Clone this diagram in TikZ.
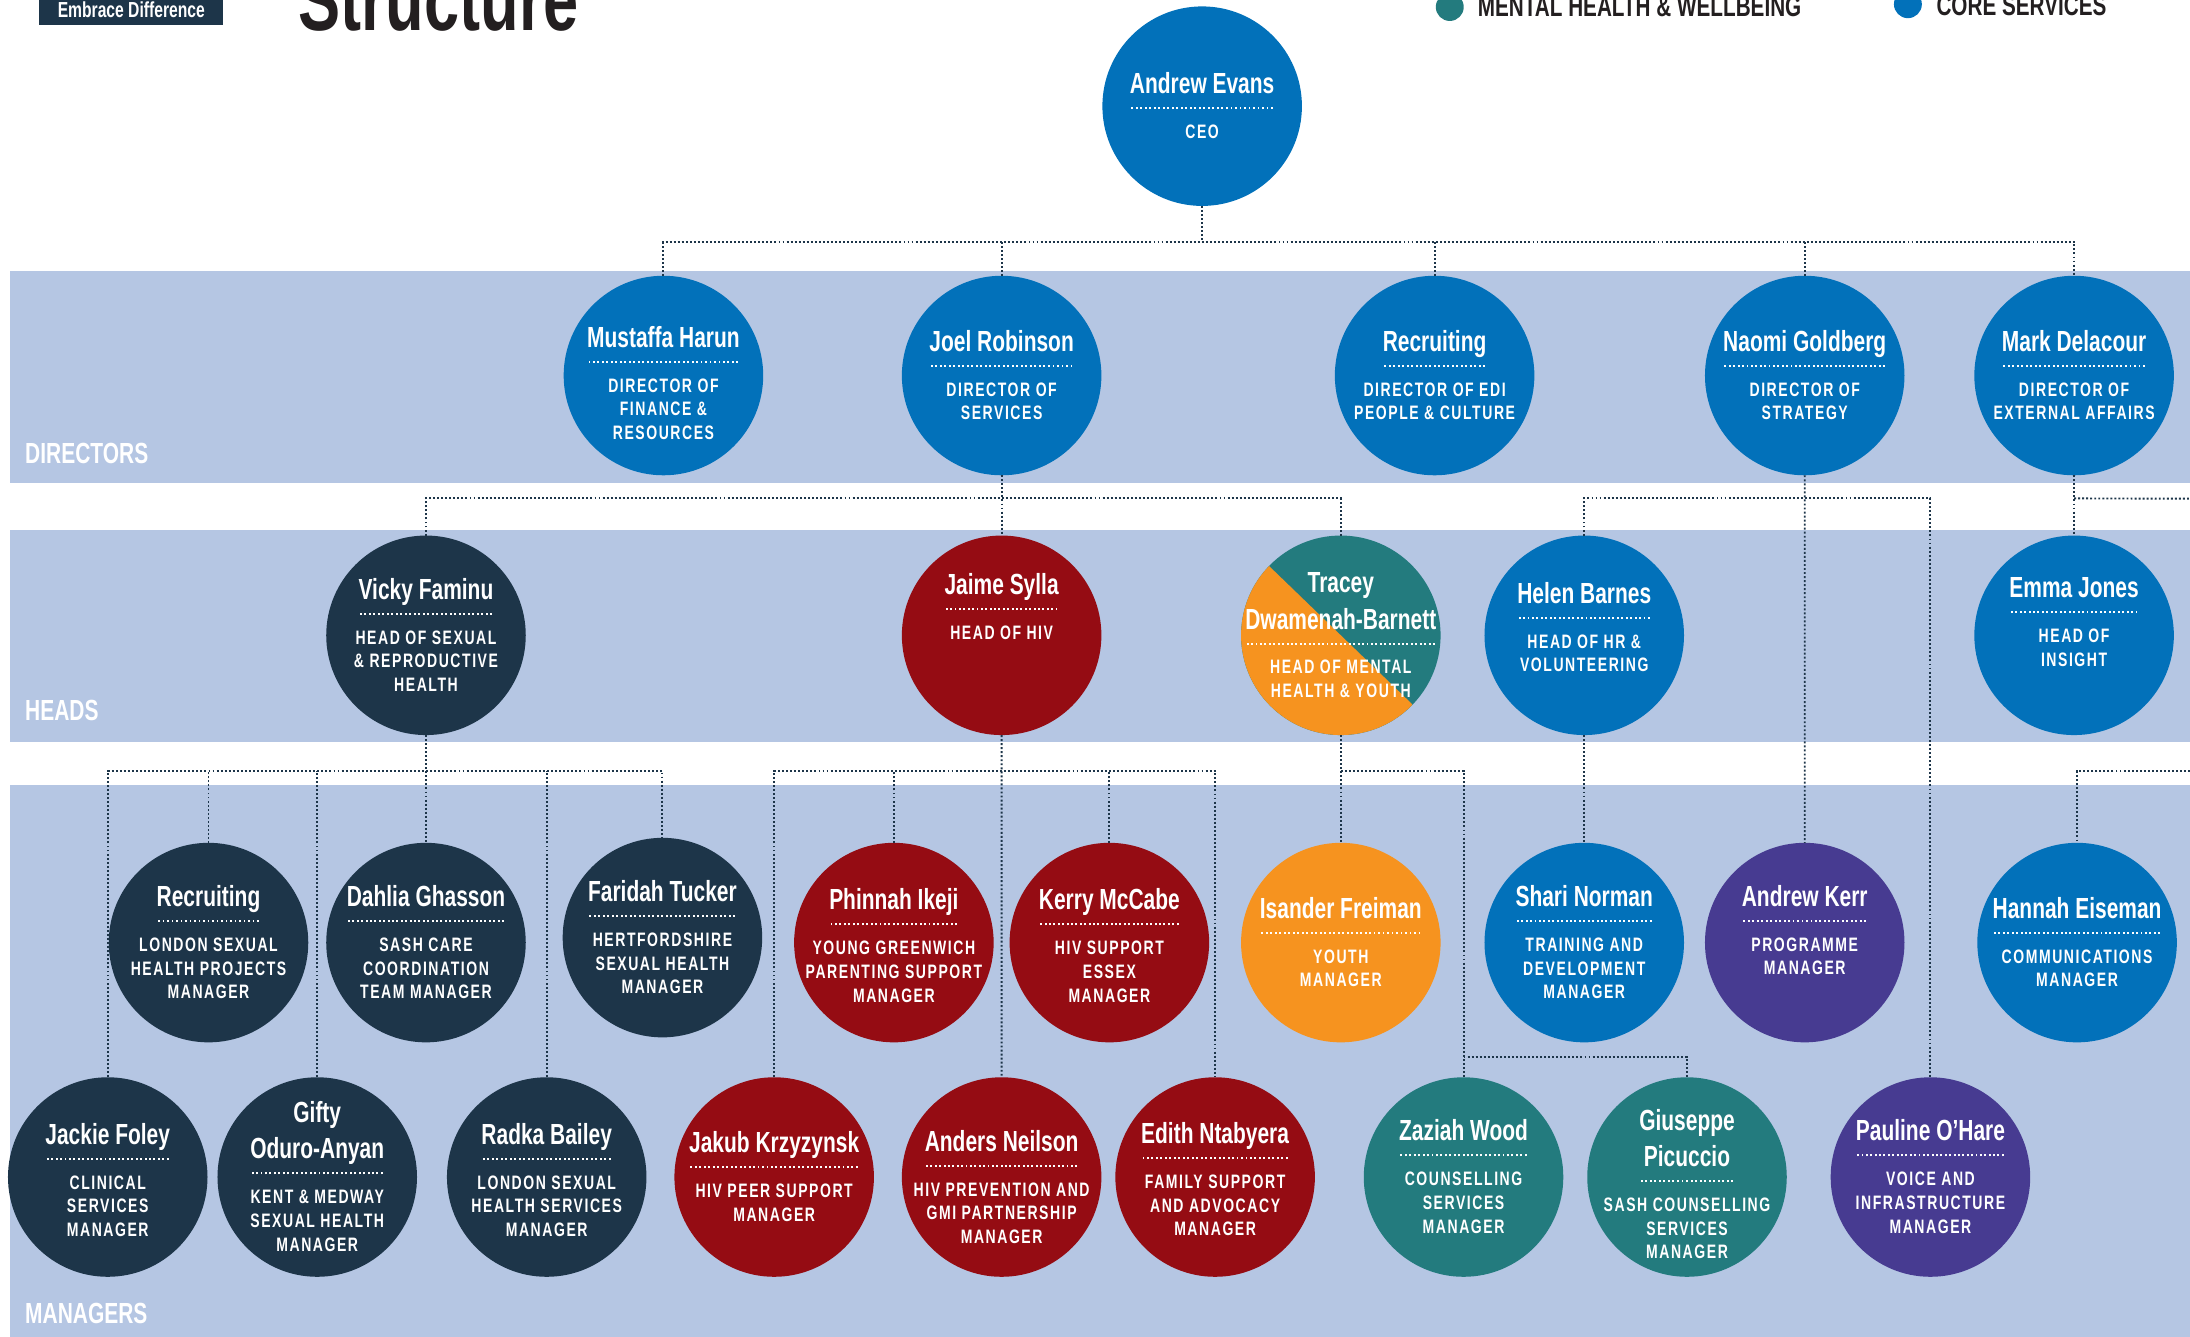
\documentclass[tikz,border=0pt]{standalone}
\usepackage{fontspec}
\usepackage{array}
\usetikzlibrary{positioning}

\newfontfamily\condfam[FakeStretch=0.72]{Liberation Sans}
\newfontfamily\rolefam[FakeStretch=0.72,LetterSpace=8]{Liberation Sans}
\newcommand{\namefnt}{\condfam\bfseries\fontsize{8.3}{10.3}\selectfont}
\newcommand{\rolefnt}{\rolefam\bfseries\fontsize{5.55}{6.75}\selectfont}
\newcommand{\namestrut}{\rule[-2.9pt]{0pt}{10.3pt}}
\newcommand{\rolestrut}{\rule[-1.9pt]{0pt}{6.75pt}}

\definecolor{coreblue}{HTML}{0271BA}
\definecolor{shrnavy}{HTML}{1D3549}
\definecolor{hivred}{HTML}{950C13}
\definecolor{youthorange}{HTML}{F6931F}
\definecolor{mhwteal}{HTML}{237B7E}
\definecolor{progpurple}{HTML}{473B91}
\definecolor{bandblue}{HTML}{B5C6E3}
\definecolor{ink}{HTML}{231F20}

% name, dotted rule as wide as the name, role (optional arg nudges the block up/down)
\newlength{\namewd}
\newcommand{\sepdots}{\makebox[\namewd]{\xleaders\hbox to 1.25pt{\hss\rule{0.55pt}{0.55pt}\hss}\hfill}\rule[-3.55pt]{0pt}{5.05pt}}
\newcommand{\who}[3][0pt]{{\renewcommand{\arraystretch}{0}%
  \settowidth{\namewd}{\begin{tabular}{@{}>{\namefnt}c@{}}#2\end{tabular}}%
  \smash{\makebox[0pt]{\raisebox{\dimexpr #1-2.6pt\relax}{\begin{tabular}{@{}c@{}}
    \begin{tabular}[b]{@{}>{\namefnt\namestrut}c@{}}#2\end{tabular}\\
    \sepdots\\
    \begin{tabular}[t]{@{}>{\rolefnt\rolestrut}c@{}}#3\end{tabular}
  \end{tabular}}}}}}

\begin{document}
\begin{tikzpicture}[
    person/.style={circle, minimum size=2cm, inner sep=0pt, outer sep=0pt, text=white},
    corenode/.style={person, fill=coreblue},
    shrnode/.style={person, fill=shrnavy},
    hivnode/.style={person, fill=hivred},
    youthnode/.style={person, fill=youthorange},
    mhwnode/.style={person, fill=mhwteal},
    prognode/.style={person, fill=progpurple},
    bandlabel/.style={anchor=base west, inner sep=0pt, text=white, font=\condfam\bfseries\fontsize{8.3}{10}\selectfont},
    legendtext/.style={anchor=base west, inner sep=0pt, text=ink, font=\condfam\bfseries\fontsize{8.2}{10}\selectfont},
    legenddot/.style={circle, minimum size=0.28cm, inner sep=0pt},
    link/.style={draw=shrnavy, line width=0.55pt, dash pattern=on 0.55pt off 0.6pt}]
    \useasboundingbox (0,0) rectangle (21.952,-13.398);
    \clip (0,0) rectangle (21.952,-13.398);

    % bands
    \fill[bandblue] (0.098,-2.716) rectangle (21.952,-4.837);
    \fill[bandblue] (0.098,-5.312) rectangle (21.952,-7.434);
    \fill[bandblue] (0.098,-7.865) rectangle (21.952,-13.398);
    \node[bandlabel] (dirlabel) at (0.246,-4.644) {DIRECTORS};
    \node[bandlabel] (headlabel) at (0.246,-7.224) {HEADS};
    \node[bandlabel] (mgrlabel) at (0.246,-13.265) {MANAGERS};

    % header
    \node[fill=shrnavy, text=white, inner sep=0pt, minimum width=1.848cm, text height=0.374cm, text depth=0.078cm,
        font=\condfam\bfseries\fontsize{6.2}{7}\selectfont, anchor=base] (tag) at (1.316,-0.174) {Embrace Difference};
    \node[anchor=base west, inner sep=0pt, text=ink, font=\condfam\bfseries\fontsize{25}{30}\selectfont] (title) at (2.982,-0.301) {Structure};
    \node[legenddot, fill=mhwteal] (mhwdot) at (14.532,-0.07) {};
    \node[legendtext] (mhwkey) at (14.806,-0.161) {MENTAL HEALTH \& WELLBEING};
    \node[legenddot, fill=coreblue] (coredot) at (19.124,-0.042) {};
    \node[legendtext] (corekey) at (19.404,-0.154) {CORE SERVICES};

    % CEO and directors
    \node[corenode] (ceo) at (12.05,-1.064) {\who{Andrew Evans}{CEO}};
    \node[corenode, below=0.7cm of ceo, xshift=-5.4cm] (mustaffa) {\who[-2.2pt]{Mustaffa Harun}{DIRECTOR OF\\FINANCE \&\\RESOURCES}};
    \node[corenode, right=1.39cm of mustaffa] (joel) {\who{Joel Robinson}{DIRECTOR OF\\SERVICES}};
    \node[corenode, right=2.34cm of joel] (edi) {\who{Recruiting}{DIRECTOR OF EDI\\PEOPLE \& CULTURE}};
    \node[corenode, right=1.71cm of edi] (naomi) {\who{Naomi Goldberg}{DIRECTOR OF\\STRATEGY}};
    \node[corenode, right=0.70cm of naomi] (mark) {\who{Mark Delacour}{DIRECTOR OF\\EXTERNAL AFFAIRS}};

    % heads
    \node[hivnode, below=0.604cm of joel] (jaime) {\who[8pt]{Jaime Sylla}{HEAD OF HIV}};
    \node[shrnode, left=3.77cm of jaime] (vicky) {\who{Vicky Faminu}{HEAD OF SEXUAL\\\& REPRODUCTIVE\\HEALTH}};
    \node[mhwnode, right=1.40cm of jaime, path picture={\fill[youthorange] (path picture bounding box.center) ++(136:1cm)
        arc[start angle=136, end angle=316, radius=1cm] -- cycle;}] (tracey) {\who{Tracey\\Dwamenah-Barnett}{HEAD OF MENTAL\\HEALTH \& YOUTH}};
    \node[corenode, right=0.44cm of tracey] (helen) {\who[2.2pt]{Helen Barnes}{HEAD OF HR \&\\VOLUNTEERING}};
    \node[corenode, below=0.604cm of mark] (emma) {\who[3.8pt]{Emma Jones}{HEAD OF\\INSIGHT}};

    % managers, upper row
    \node[shrnode, below=1.08cm of vicky] (dahlia) {\who{Dahlia Ghasson}{SASH CARE\\COORDINATION\\TEAM MANAGER}};
    \node[shrnode, left=0.18cm of dahlia] (recruit) {\who{Recruiting}{LONDON SEXUAL\\HEALTH PROJECTS\\MANAGER}};
    \node[shrnode, right=0.37cm of dahlia, yshift=0.05cm] (faridah) {\who{Faridah Tucker}{HERTFORDSHIRE\\SEXUAL HEALTH\\MANAGER}};
    \node[hivnode, right=2.69cm of dahlia] (phinnah) {\who[-1pt]{Phinnah Ikeji}{YOUNG GREENWICH\\PARENTING SUPPORT\\MANAGER}};
    \node[hivnode, right=0.16cm of phinnah] (kerry) {\who[-1pt]{Kerry McCabe}{HIV SUPPORT\\ESSEX\\MANAGER}};
    \node[youthnode, below=1.08cm of tracey] (isander) {\who{Isander Freiman}{YOUTH\\MANAGER}};
    \node[corenode, below=1.08cm of helen] (shari) {\who{Shari Norman}{TRAINING AND\\DEVELOPMENT\\MANAGER}};
    \node[prognode, right=0.21cm of shari] (akerr) {\who[3.4pt]{Andrew Kerr}{PROGRAMME\\MANAGER}};
    \node[corenode, right=0.73cm of akerr] (hannah) {\who{Hannah Eiseman}{COMMUNICATIONS\\MANAGER}};

    % managers, lower row
    \node[shrnode, below=0.35cm of recruit, xshift=-1.01cm] (jackie) {\who[-1pt]{Jackie Foley}{CLINICAL\\SERVICES\\MANAGER}};
    \node[shrnode, right=0.10cm of jackie] (gifty) {\who{Gifty\\Oduro-Anyan}{KENT \& MEDWAY\\SEXUAL HEALTH\\MANAGER}};
    \node[shrnode, right=0.30cm of gifty] (radka) {\who[-1pt]{Radka Bailey}{LONDON SEXUAL\\HEALTH SERVICES\\MANAGER}};
    \node[hivnode, right=0.28cm of radka] (jakub) {\who{Jakub Krzyzynsk}{HIV PEER SUPPORT\\MANAGER}};
    \node[hivnode, right=0.28cm of jakub] (anders) {\who[-3pt]{Anders Neilson}{HIV PREVENTION AND\\GMI PARTNERSHIP\\MANAGER}};
    \node[hivnode, right=0.14cm of anders] (edith) {\who[-0.8pt]{Edith Ntabyera}{FAMILY SUPPORT\\AND ADVOCACY\\MANAGER}};
    \node[mhwnode, right=0.49cm of edith] (zaziah) {\who{Zaziah Wood}{COUNSELLING\\SERVICES\\MANAGER}};
    \node[mhwnode, right=0.24cm of zaziah] (giuseppe) {\who[-2.2pt]{Giuseppe\\Picuccio}{SASH COUNSELLING\\SERVICES\\MANAGER}};
    \node[prognode, right=0.44cm of giuseppe] (pauline) {\who{Pauline O’Hare}{VOICE AND\\INFRASTRUCTURE\\MANAGER}};

    % bus points
    \coordinate[below=0.358cm of ceo] (ceobus);
    \coordinate[below=0.232cm of joel] (joelbus);
    \coordinate[below=0.358cm of vicky] (vickybus);
    \coordinate[below=0.358cm of jaime] (jaimebus);
    \coordinate[below=0.358cm of tracey] (traceybus);
    \coordinate[above=0.204cm of zaziah] (zaziahbus);
    \coordinate (markbus) at (mark |- joelbus);
    \coordinate (eastedge1) at (21.952,-4.998);
    \coordinate (eastedge2) at (21.952,-7.728);

    % connectors
    \draw[link] (ceo) -- (ceobus);
    \draw[link] (mustaffa) |- (ceobus) -| (mark);
    \draw[link] (joel) -- (joel |- ceobus);
    \draw[link] (edi) -- (edi |- ceobus);
    \draw[link] (naomi) -- (naomi |- ceobus);

    \draw[link] (joel) -- (jaime);
    \draw[link] (vicky) |- (joelbus) -| (tracey);
    \draw[link] (naomi) -- (akerr);
    \draw[link] (helen) |- (pauline |- joelbus) -- (pauline);
    \draw[link] (mark) -- (emma);
    \draw[link] (markbus) -- (eastedge1);

    \draw[link] (vicky) -- (dahlia);
    \draw[link] (jackie) |- (faridah |- vickybus) -- (faridah);
    \draw[link] (recruit) -- (recruit |- vickybus);
    \draw[link] (gifty) -- (gifty |- vickybus);
    \draw[link] (radka) -- (radka |- vickybus);

    \draw[link] (jaime) -- (anders);
    \draw[link] (jakub) |- (edith |- jaimebus) -- (edith);
    \draw[link] (phinnah) -- (phinnah |- jaimebus);
    \draw[link] (kerry) -- (kerry |- jaimebus);

    \draw[link] (tracey) -- (isander);
    \draw[link] (traceybus) -| (zaziah);
    \draw[link] (zaziahbus) -| (giuseppe);
    \draw[link] (helen) -- (shari);
    \draw[link] (eastedge2) -| (hannah);
\end{tikzpicture}
\end{document}
